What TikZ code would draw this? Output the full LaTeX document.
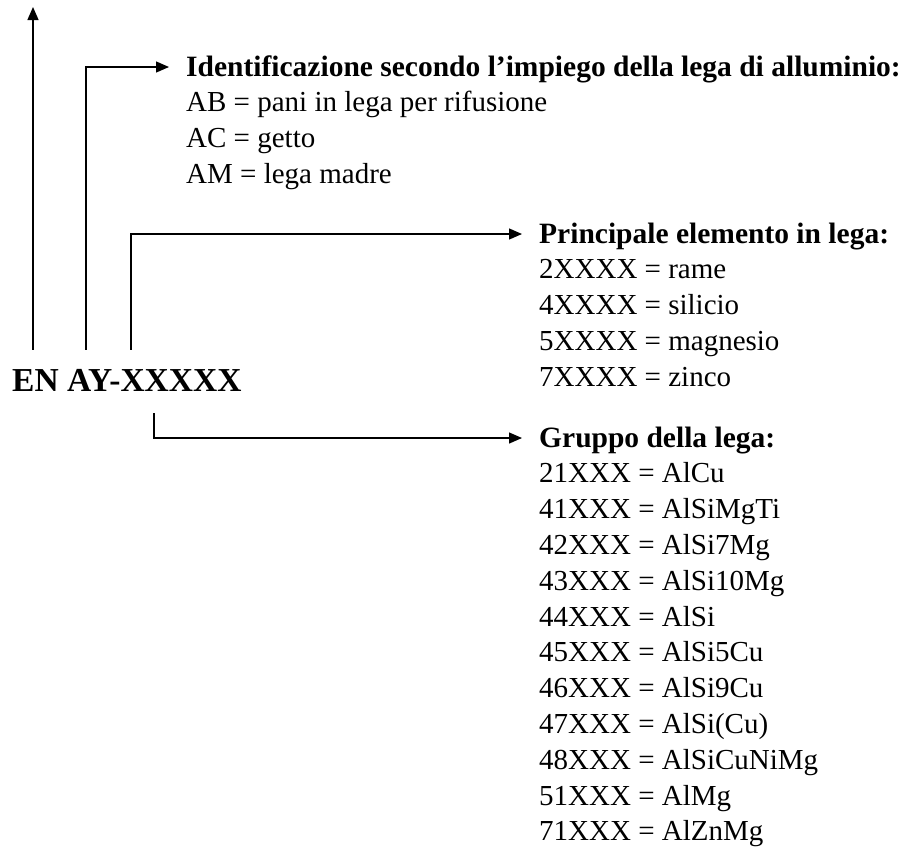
\documentclass[tikz,border=0pt]{standalone}
\usepackage{fontspec}
\setmainfont{Liberation Serif}
\usetikzlibrary{arrows.meta, positioning, calc}
\tikzset{
    code/.style={font=\fontsize{33.5}{36}\selectfont\bfseries, inner sep=0pt, anchor=base west},
    head/.style={font=\fontsize{29.5}{36}\selectfont\bfseries, inner sep=0pt, anchor=base west},
    item/.style={font=\fontsize{29}{36}\selectfont, inner sep=0pt, anchor=base west},
    link/.style={-{Triangle[length=13pt, width=11pt]}, line width=1.3pt, black}
}

\begin{document}
\begin{tikzpicture}[x=1pt, y=-1pt]
    \useasboundingbox (0,0) rectangle (909,849);
    % designation
    \node[code] (code) at (12,391) {EN AY-XXXXX};
    % headings
    \node[head] (idhead) at (186,76) {Identificazione secondo l'impiego della lega di alluminio:};
    \node[head] (elhead) at (539,243) {Principale elemento in lega:};
    \node[head] (grhead) at (539,447) {Gruppo della lega:};
    % lists
    \foreach \t [count=\i] in {AB = pani in lega per rifusione, AC = getto, AM = lega madre}
        \node[item] (id\i) at ($(idhead.base west)+(0,\i*35.8)$) {\t};
    \foreach \t [count=\i] in {2XXXX = rame, 4XXXX = silicio, 5XXXX = magnesio, 7XXXX = zinco}
        \node[item] (el\i) at ($(elhead.base west)+(0,\i*35.8)$) {\t};
    \foreach \t [count=\i] in {21XXX = AlCu, 41XXX = AlSiMgTi, 42XXX = AlSi7Mg, 43XXX = AlSi10Mg,
        44XXX = AlSi, 45XXX = AlSi5Cu, 46XXX = AlSi9Cu, 47XXX = AlSi(Cu),
        48XXX = AlSiCuNiMg, 51XXX = AlMg, 71XXX = AlZnMg}
        \node[item] (gr\i) at ($(grhead.base west)+(0,\i*35.8)$) {\t};
    % arrows
    \coordinate (a1) at ([xshift=21pt, yshift=19pt]code.north west);
    \coordinate (a2) at ([xshift=74pt, yshift=19pt]code.north west);
    \coordinate (a3) at ([xshift=119pt, yshift=19pt]code.north west);
    \coordinate (a4) at ([xshift=142pt, yshift=-22pt]code.south west);
    \coordinate (topend) at (a1 |- 0,7);
    \draw[link] (a1) -- (topend);
    \draw[link] (a2) |- ([xshift=-17pt, yshift=9pt]idhead.base west);
    \draw[link] (a3) |- ([xshift=-17pt, yshift=9pt]elhead.base west);
    \draw[link] (a4) |- ([xshift=-17pt, yshift=9pt]grhead.base west);
\end{tikzpicture}
\end{document}
